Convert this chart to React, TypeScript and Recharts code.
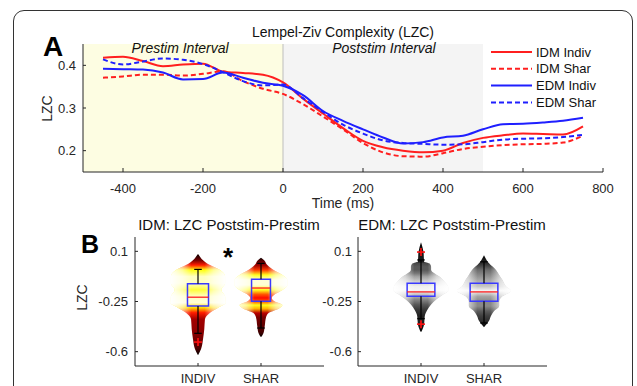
import React from "react";
import {
  Area,
  ComposedChart,
  Line,
  LineChart,
  ReferenceArea,
  ReferenceDot,
  ReferenceLine,
  XAxis,
  YAxis,
} from "recharts";

const FONT = "'Liberation Sans', Arial, Helvetica, sans-serif";
const AXIS = "#262626";

// ---- panel A: LZC time course ----
const times = [
  -450, -400, -350, -300, -250, -200, -150, -100, -50, 0, 50, 100, 150, 200,
  250, 300, 350, 400, 450, 500, 550, 600, 650, 700, 750,
];
const idmIndiv = [
  0.418, 0.42, 0.41, 0.398, 0.402, 0.404, 0.385, 0.382, 0.378, 0.36, 0.322,
  0.287, 0.253, 0.223, 0.208, 0.2, 0.196, 0.2, 0.218, 0.23, 0.236, 0.24, 0.239,
  0.238, 0.257,
];
const idmShar = [
  0.371, 0.374, 0.378, 0.378, 0.376, 0.38, 0.386, 0.363, 0.345, 0.333, 0.309,
  0.28, 0.25, 0.218, 0.196, 0.187, 0.186, 0.194, 0.204, 0.209, 0.213, 0.215,
  0.216, 0.219, 0.235,
];
const edmIndiv = [
  0.392, 0.391, 0.39, 0.383, 0.367, 0.368, 0.383, 0.371, 0.359, 0.352, 0.33,
  0.293, 0.27, 0.25, 0.231, 0.217, 0.22, 0.231, 0.235, 0.25, 0.262, 0.263,
  0.266, 0.27, 0.277,
];
const edmShar = [
  0.414, 0.402, 0.409, 0.416, 0.413, 0.403, 0.384, 0.363, 0.353, 0.355, 0.323,
  0.291, 0.261, 0.24, 0.224, 0.218, 0.216, 0.214, 0.215, 0.22, 0.226, 0.228,
  0.229, 0.232, 0.237,
];
const timeTicks = [-400, -200, 0, 200, 400, 600, 800];
const lzcTicks = [0.2, 0.3, 0.4];

const series = [
  { key: "idmIndiv", name: "IDM Indiv", values: idmIndiv, color: "#ff1f1f", dash: undefined },
  { key: "idmShar", name: "IDM Shar", values: idmShar, color: "#ff1f1f", dash: "5 3" },
  { key: "edmIndiv", name: "EDM Indiv", values: edmIndiv, color: "#1f1fff", dash: undefined },
  { key: "edmShar", name: "EDM Shar", values: edmShar, color: "#1f1fff", dash: "5 3" },
];

const lineRows = times.map((t, i) => {
  const row: Record<string, number> = { t };
  series.forEach((s) => (row[s.key] = s.values[i]));
  return row;
});

// ---- panel B: poststim - prestim violins ----
const groupLabels = ["INDIV", "SHAR"];
const diffTicks = [0.1, -0.25, -0.6];

const idmIndivV = [0.084, 0.038, 0.004, -0.03, -0.076, -0.122, -0.168, -0.214, -0.259, -0.293, -0.328, -0.374, -0.442, -0.511, -0.579, -0.625];
const idmIndivW = [0, 0.08, 0.19, 0.35, 0.43, 0.43, 0.37, 0.43, 0.44, 0.32, 0.19, 0.11, 0.1, 0.08, 0.05, 0];
const idmSharV = [0.055, 0.038, 0.004, -0.03, -0.065, -0.1, -0.135, -0.17, -0.2, -0.225, -0.25, -0.275, -0.3, -0.33, -0.36, -0.42, -0.47, -0.5];
const idmSharW = [0, 0.05, 0.1, 0.2, 0.34, 0.42, 0.42, 0.34, 0.22, 0.17, 0.22, 0.34, 0.28, 0.12, 0.08, 0.06, 0.04, 0];
const edmIndivV = [0.164, 0.095, 0.027, 0.016, -0.008, -0.03, -0.053, -0.076, -0.111, -0.145, -0.172, -0.202, -0.236, -0.271, -0.309, -0.351, -0.408, -0.465];
const edmIndivW = [0, 0.04, 0.05, 0.13, 0.16, 0.16, 0.21, 0.29, 0.37, 0.43, 0.44, 0.35, 0.24, 0.16, 0.1, 0.06, 0.05, 0];
const edmSharV = [0.073, 0.016, -0.03, -0.065, -0.099, -0.145, -0.175, -0.214, -0.248, -0.282, -0.317, -0.351, -0.385, -0.43];
const edmSharW = [0, 0.08, 0.19, 0.24, 0.29, 0.35, 0.43, 0.29, 0.24, 0.24, 0.16, 0.11, 0.08, 0];

// [lower whisker, q1, median, q3, upper whisker]
const idmIndivBox = [-0.472, -0.282, -0.22, -0.126, -0.026];
const idmSharBox = [-0.435, -0.248, -0.156, -0.094, 0.016];
const edmIndivBox = [-0.37, -0.214, -0.183, -0.122, 0.04];
const edmSharBox = [-0.4, -0.248, -0.183, -0.122, 0.027];
const idmIndivOut = [-0.533];
const edmIndivOut = [0.095, -0.408];

const clamp = (x: number) => Math.min(1, Math.max(0, x));
const hot = (t: number) => {
  const c = (x: number) => Math.round(255 * clamp(x));
  return `rgb(${c(t / 0.375)},${c((t - 0.375) / 0.375)},${c((t - 0.75) / 0.25)})`;
};
const gray = (t: number) => {
  const g = Math.round(255 * clamp(t));
  return `rgb(${g},${g},${g})`;
};

type Group = {
  id: string;
  center: number;
  vs: number[];
  ws: number[];
  box: number[];
  outliers: number[];
  half: number;
};

function Gradients({ g, cmap }: { g: Group; cmap: (t: number) => string }) {
  const top = Math.max(...g.vs);
  const bot = Math.min(...g.vs);
  const maxW = Math.max(...g.ws);
  return (
    <>
      <linearGradient id={g.id} x1="0" y1="0" x2="0" y2="1">
        {g.vs.map((v, i) => (
          <stop
            key={i}
            offset={(top - v) / (top - bot)}
            stopColor={cmap((0.96 * g.ws[i]) / maxW)}
          />
        ))}
      </linearGradient>
      {/* soft white edges on the wide parts */}
      <linearGradient id={g.id + "Fade"} x1="0" y1="0" x2="1" y2="0">
        <stop offset={0} stopColor="#fff" stopOpacity={1} />
        <stop offset={0.22} stopColor="#fff" stopOpacity={0.55} />
        <stop offset={0.38} stopColor="#fff" stopOpacity={0} />
        <stop offset={0.62} stopColor="#fff" stopOpacity={0} />
        <stop offset={0.78} stopColor="#fff" stopOpacity={0.55} />
        <stop offset={1} stopColor="#fff" stopOpacity={1} />
      </linearGradient>
    </>
  );
}

const plus = (color: string) => (p: any) => (
  <g stroke={color} strokeWidth={1.6}>
    <line x1={p.cx - 4} x2={p.cx + 4} y1={p.cy} y2={p.cy} />
    <line x1={p.cx} x2={p.cx} y1={p.cy - 4} y2={p.cy + 4} />
  </g>
);

function ViolinChart({
  groups,
  cmap,
  left,
  right,
  tickMargin,
}: {
  groups: Group[];
  cmap: (t: number) => string;
  left: number;
  right: number;
  tickMargin: number;
}) {
  // one block of rows per violin; the other violin's key stays empty there
  const rows = groups.flatMap((g) =>
    g.vs.map((v, i) => ({ v, [g.id]: [g.center - g.ws[i], g.center + g.ws[i]] }))
  );
  return (
    <ComposedChart
      layout="vertical"
      width={637}
      height={200}
      data={rows}
      margin={{ top: 22, right, bottom: 19, left }}
    >
      <defs>
        {groups.map((g) => (
          <Gradients key={g.id} g={g} cmap={cmap} />
        ))}
      </defs>
      <XAxis
        type="number"
        domain={[0, 3]}
        ticks={[1, 2]}
        tickFormatter={(v: number) => groupLabels[v - 1]}
        height={30}
        tickSize={-3}
        tickMargin={11}
        stroke={AXIS}
        tick={{ fill: AXIS, fontSize: 13, fontFamily: FONT }}
        allowDataOverflow
      />
      <YAxis
        type="number"
        dataKey="v"
        domain={[-0.7, 0.2]}
        ticks={diffTicks}
        width={40}
        tickSize={-3}
        tickMargin={tickMargin}
        stroke={AXIS}
        tick={{ fill: AXIS, fontSize: 13, fontFamily: FONT }}
        allowDataOverflow
        reversed
      />
      {groups.map((g) => (
        <Area
          key={g.id}
          dataKey={g.id}
          type="monotone"
          stroke="none"
          fill={`url(#${g.id})`}
          fillOpacity={1}
          isAnimationActive={false}
        />
      ))}
      {groups.map((g) => (
        <Area
          key={g.id + "Fade"}
          dataKey={g.id}
          type="monotone"
          stroke="none"
          fill={`url(#${g.id}Fade)`}
          fillOpacity={1}
          isAnimationActive={false}
        />
      ))}
      {groups.flatMap((g) => {
        const [lo, q1, med, q3, hi] = g.box;
        const c = g.center;
        return [
          <ReferenceLine key={g.id + "w1"} segment={[{ x: c, y: lo }, { x: c, y: q1 }]} stroke="#000" strokeWidth={1.2} />,
          <ReferenceLine key={g.id + "w2"} segment={[{ x: c, y: q3 }, { x: c, y: hi }]} stroke="#000" strokeWidth={1.2} />,
          <ReferenceLine key={g.id + "c1"} segment={[{ x: c - 0.06, y: lo }, { x: c + 0.06, y: lo }]} stroke="#000" strokeWidth={1.2} />,
          <ReferenceLine key={g.id + "c2"} segment={[{ x: c - 0.06, y: hi }, { x: c + 0.06, y: hi }]} stroke="#000" strokeWidth={1.2} />,
          <ReferenceArea
            key={g.id + "box"}
            x1={c - g.half}
            x2={c + g.half}
            y1={q1}
            y2={q3}
            fill="none"
            stroke="#3a3aff"
            strokeWidth={1.5}
          />,
          <ReferenceLine
            key={g.id + "med"}
            segment={[{ x: c - g.half, y: med }, { x: c + g.half, y: med }]}
            stroke="#ff2020"
            strokeWidth={1.3}
          />,
          ...g.outliers.map((o, i) => (
            <ReferenceDot key={g.id + "o" + i} x={c} y={o} r={4} shape={plus("#ff1010")} />
          )),
        ];
      })}
    </ComposedChart>
  );
}

const idmGroups: Group[] = [
  { id: "vIdmIndiv", center: 1, vs: idmIndivV, ws: idmIndivW, box: idmIndivBox, outliers: idmIndivOut, half: 0.167 },
  { id: "vIdmShar", center: 2, vs: idmSharV, ws: idmSharW, box: idmSharBox, outliers: [], half: 0.15 },
];
const edmGroups: Group[] = [
  { id: "vEdmIndiv", center: 1, vs: edmIndivV, ws: edmIndivW, box: edmIndivBox, outliers: edmIndivOut, half: 0.22 },
  { id: "vEdmShar", center: 2, vs: edmSharV, ws: edmSharW, box: edmSharBox, outliers: [], half: 0.22 },
];

export default function App() {
  return (
    <div
      style={{
        position: "absolute",
        left: 0,
        top: 0,
        width: 637,
        height: 386,
        overflow: "hidden",
        background: "#fff",
        fontFamily: FONT,
      }}
    >
      <div
        style={{
          position: "absolute",
          left: 13,
          top: 10,
          width: 620,
          height: 420,
          border: "1.5px solid #333",
          borderRadius: 11,
          boxSizing: "border-box",
        }}
      />

      <div style={{ position: "absolute", left: 0, top: 0 }}>
        <LineChart
          width={637}
          height={215}
          data={lineRows}
          margin={{ top: 44, right: 34, bottom: 13, left: 43 }}
        >
          <ReferenceArea x1={-500} x2={0} fill="#fdfde2" fillOpacity={1} stroke="none" />
          <ReferenceArea x1={0} x2={500} fill="#f4f4f4" fillOpacity={1} stroke="none" />
          <ReferenceLine x={0} stroke="#bdbdbd" strokeWidth={1} />
          <XAxis
            type="number"
            dataKey="t"
            domain={[-500, 800]}
            ticks={timeTicks}
            height={30}
            tickSize={-4}
            tickMargin={16}
            stroke={AXIS}
            tick={{ fill: AXIS, fontSize: 13, fontFamily: FONT }}
          />
          <YAxis
            type="number"
            domain={[0.15, 0.45]}
            ticks={lzcTicks}
            width={40}
            tickSize={-3}
            tickMargin={10}
            stroke={AXIS}
            tick={{ fill: AXIS, fontSize: 13, fontFamily: FONT }}
            allowDataOverflow
          />
          {series.map((s) => (
            <Line
              key={s.key}
              dataKey={s.key}
              type="monotone"
              stroke={s.color}
              strokeWidth={2}
              strokeDasharray={s.dash}
              dot={false}
              isAnimationActive={false}
            />
          ))}
        </LineChart>
      </div>

      <div style={{ position: "absolute", left: 0, top: 215 }}>
        <ViolinChart groups={idmGroups} cmap={hot} left={95} right={313} tickMargin={10} />
      </div>
      <div style={{ position: "absolute", left: 0, top: 215 }}>
        <ViolinChart groups={edmGroups} cmap={gray} left={318} right={90} tickMargin={9} />
      </div>

      <svg
        width={637}
        height={386}
        style={{ position: "absolute", left: 0, top: 0, pointerEvents: "none" }}
        fontFamily={FONT}
      >
        <text x={43} y={56} fontSize={28} fontWeight="bold">A</text>
        <text x={343} y={37} fontSize={14} textAnchor="middle" fill="#111">
          Lempel-Ziv Complexity (LZC)
        </text>
        <text x={180} y={53} fontSize={14} textAnchor="middle" fontStyle="italic" fill="#111">
          Prestim Interval
        </text>
        <text x={384} y={53} fontSize={14} textAnchor="middle" fontStyle="italic" fill="#111">
          Poststim Interval
        </text>
        <text x={52} y={108.5} fontSize={14} textAnchor="middle" fill={AXIS} transform="rotate(-90 52 108.5)">
          LZC
        </text>
        <text x={343} y={208} fontSize={14} textAnchor="middle" fill={AXIS}>
          Time (ms)
        </text>

        {series.map((s, i) => (
          <g key={s.key}>
            <line
              x1={491}
              x2={532}
              y1={52 + i * 16.8}
              y2={52 + i * 16.8}
              stroke={s.color}
              strokeWidth={2}
              strokeDasharray={s.dash}
            />
            <text x={536} y={56.5 + i * 16.8} fontSize={13} fill="#111">
              {s.name}
            </text>
          </g>
        ))}

        <text x={81} y={253} fontSize={25} fontWeight="bold">B</text>
        <text x={229} y={230} fontSize={15} textAnchor="middle" fill="#111">
          IDM: LZC Poststim-Prestim
        </text>
        <text x={452} y={230} fontSize={15} textAnchor="middle" fill="#111">
          EDM: LZC Poststim-Prestim
        </text>
        <text x={228} y={266} fontSize={26} fontWeight="bold" textAnchor="middle">*</text>
        <text x={87} y={297.5} fontSize={14} textAnchor="middle" fill={AXIS} transform="rotate(-90 87 297.5)">
          LZC
        </text>
      </svg>
    </div>
  );
}
